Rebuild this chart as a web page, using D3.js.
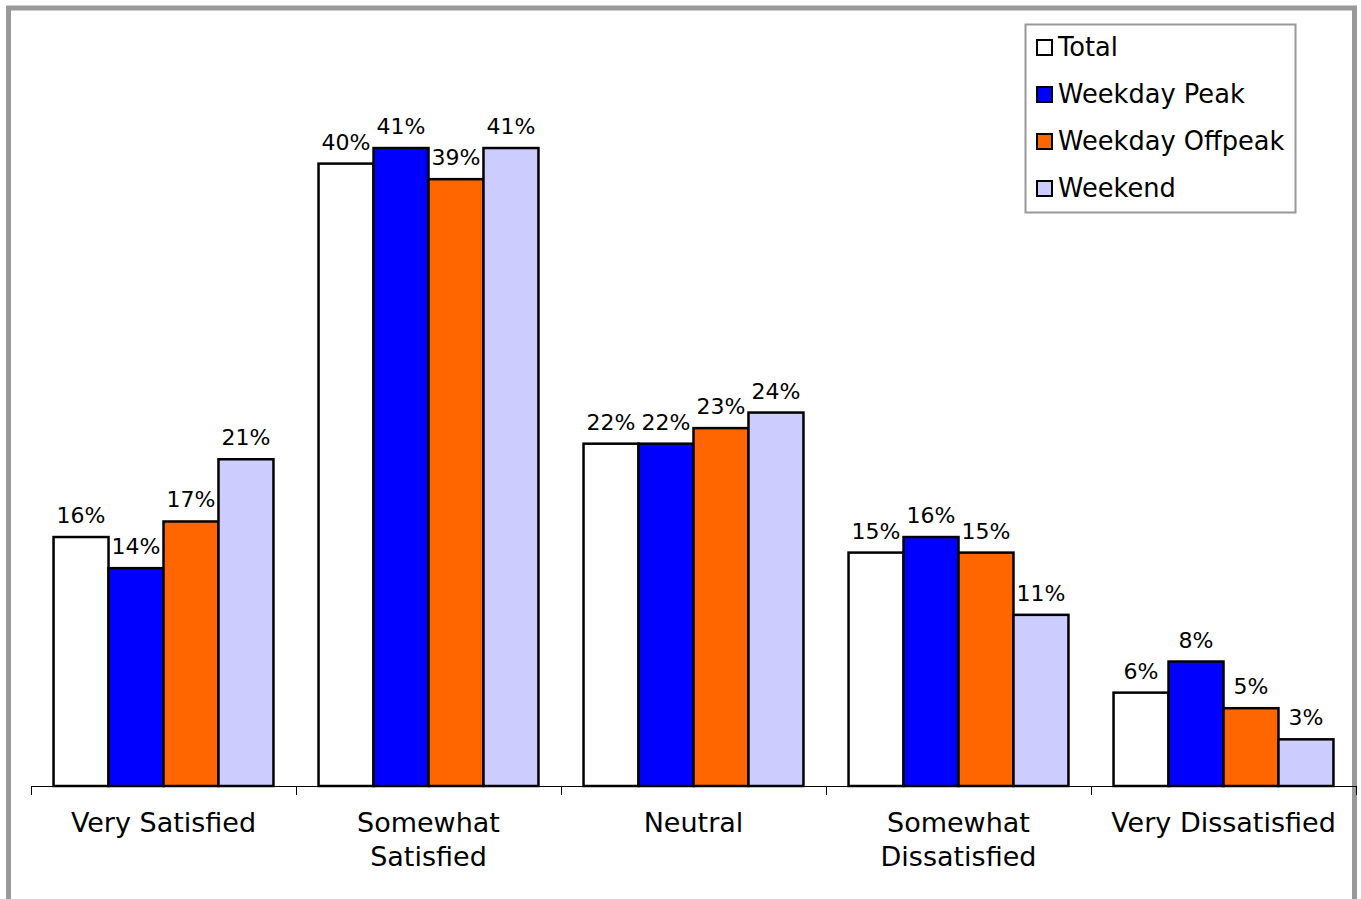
<!DOCTYPE html>
<html>
<head>
<meta charset="utf-8">
<script src="https://cdn.jsdelivr.net/npm/d3@7"></script>
<style>
  html, body { margin: 0; padding: 0; background: #fff; }
  svg { display: block; font-family: "DejaVu Sans", "Noto Sans", sans-serif; }
</style>
</head>
<body>
<svg id="chart" width="1361" height="899"></svg>
<script>
// Satisfaction ratings by travel period
const categories = [["Very Satisfied"], ["Somewhat", "Satisfied"], ["Neutral"], ["Somewhat", "Dissatisfied"], ["Very Dissatisfied"]];
const seriesNames = ["Total", "Weekday Peak", "Weekday Offpeak", "Weekend"];
const seriesColors = ["#ffffff", "#0000ff", "#ff6600", "#ccccff"];
const total          = [0.16, 0.40, 0.22, 0.15, 0.06];
const weekdayPeak    = [0.14, 0.41, 0.22, 0.16, 0.08];
const weekdayOffpeak = [0.17, 0.39, 0.23, 0.15, 0.05];
const weekend        = [0.21, 0.41, 0.24, 0.11, 0.03];
const seriesValues = [total, weekdayPeak, weekdayOffpeak, weekend];

const svg = d3.select("#chart");
const left = 31, right = 1356, baseY = 786, topY = 8;

// outer frame
svg.append("rect")
  .attr("x", 8.5).attr("y", 8).attr("width", 1346).attr("height", 1000)
  .attr("fill", "none").attr("stroke", "#999999").attr("stroke-width", 5);

const catIdx = categories.map((d, i) => i);
const x0 = d3.scaleBand().domain(catIdx).range([left, right]).paddingInner(0).paddingOuter(0);
const x1 = d3.scaleBand().domain(d3.range(seriesNames.length))
  .range([0, x0.bandwidth()]).paddingOuter(0.41).paddingInner(0);
const y = d3.scaleLinear().domain([0, 0.5]).range([baseY, topY]);

// bars
const groups = svg.append("g").selectAll("g")
  .data(catIdx).join("g")
  .attr("transform", i => `translate(${x0(i)},0)`);

groups.selectAll("rect")
  .data(i => seriesValues.map((vals, s) => ({ s, v: vals[i] })))
  .join("rect")
  .attr("x", d => x1(d.s))
  .attr("y", d => y(d.v))
  .attr("width", x1.bandwidth())
  .attr("height", d => baseY - y(d.v))
  .attr("fill", d => seriesColors[d.s])
  .attr("stroke", "#000")
  .attr("stroke-width", 2.5);

// value labels
groups.selectAll("text.val")
  .data(i => seriesValues.map((vals, s) => ({ s, v: vals[i] })))
  .join("text")
  .attr("class", "val")
  .attr("x", d => x1(d.s) + x1.bandwidth() / 2)
  .attr("y", d => y(d.v) - 14)
  .attr("text-anchor", "middle")
  .attr("font-size", 22)
  .attr("fill", "#000")
  .text(d => d3.format(".0%")(d.v));

// category axis
const axisG = svg.append("g");
axisG.append("line")
  .attr("x1", left).attr("x2", right).attr("y1", baseY + 0.5).attr("y2", baseY + 0.5)
  .attr("stroke", "#000").attr("stroke-width", 1.2);
axisG.selectAll("line.tick")
  .data(catIdx.concat([categories.length]))
  .join("line")
  .attr("class", "tick")
  .attr("x1", i => (i < categories.length ? x0(i) : right) + 0.5)
  .attr("x2", i => (i < categories.length ? x0(i) : right) + 0.5)
  .attr("y1", baseY).attr("y2", baseY + 9)
  .attr("stroke", "#000").attr("stroke-width", 1);

axisG.selectAll("text.cat")
  .data(catIdx)
  .join("text")
  .attr("class", "cat")
  .attr("x", i => x0(i) + x0.bandwidth() / 2)
  .attr("y", 832)
  .attr("text-anchor", "middle")
  .attr("font-size", 27)
  .attr("fill", "#000")
  .each(function (i) {
    const t = d3.select(this);
    categories[i].forEach((line, k) => {
      t.append("tspan")
        .attr("x", x0(i) + x0.bandwidth() / 2)
        .attr("dy", k === 0 ? 0 : 34)
        .text(line);
    });
  });

// legend
const legend = svg.append("g").attr("transform", "translate(1025,24)");
legend.append("rect")
  .attr("x", 0.5).attr("y", 0.5).attr("width", 270).attr("height", 188)
  .attr("fill", "#fff").attr("stroke", "#999999").attr("stroke-width", 2);
const items = legend.selectAll("g.item")
  .data(seriesNames)
  .join("g")
  .attr("class", "item")
  .attr("transform", (d, i) => `translate(0,${23 + i * 47})`);
items.append("rect")
  .attr("x", 12).attr("y", -7).attr("width", 15).attr("height", 15)
  .attr("fill", (d, i) => seriesColors[i])
  .attr("stroke", "#000").attr("stroke-width", 2);
items.append("text")
  .attr("x", 33).attr("y", 9)
  .attr("font-size", 25.7)
  .attr("fill", "#000")
  .text(d => d);
</script>
</body>
</html>
